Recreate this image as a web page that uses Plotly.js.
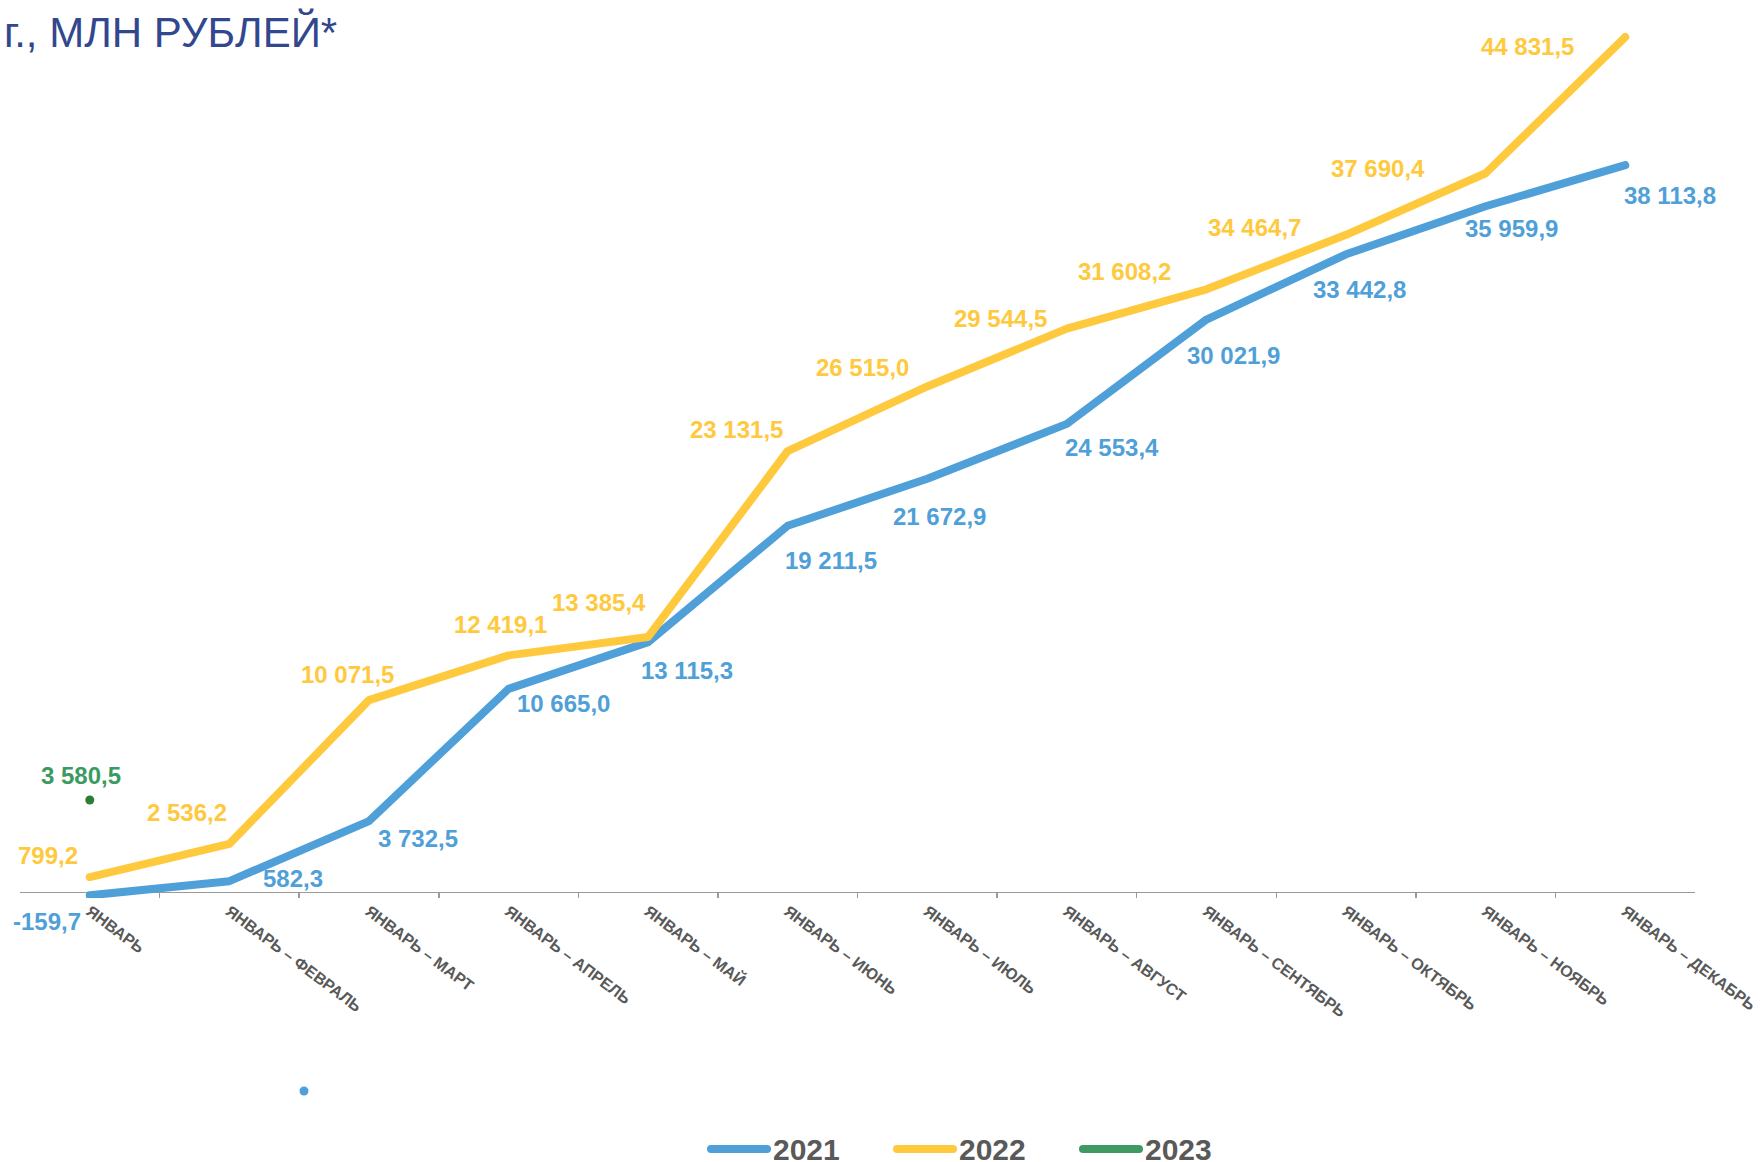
<!DOCTYPE html>
<html>
<head>
<meta charset="utf-8">
<script src="https://cdn.plot.ly/plotly-3.0.1.min.js"></script>
<style>
  html, body { margin: 0; padding: 0; background: #ffffff; }
  #chart { width: 1760px; height: 1162px; }
  .scatterlayer .js-line { stroke-linejoin: round; stroke-linecap: round; }
  .shapelayer path { stroke-linecap: round; }
</style>
</head>
<body>
<div id="chart"></div>
<script>
// ---- data ----
const categories = [
  'ЯНВАРЬ',
  'ЯНВАРЬ – ФЕВРАЛЬ',
  'ЯНВАРЬ – МАРТ',
  'ЯНВАРЬ – АПРЕЛЬ',
  'ЯНВАРЬ – МАЙ',
  'ЯНВАРЬ – ИЮНЬ',
  'ЯНВАРЬ – ИЮЛЬ',
  'ЯНВАРЬ – АВГУСТ',
  'ЯНВАРЬ – СЕНТЯБРЬ',
  'ЯНВАРЬ – ОКТЯБРЬ',
  'ЯНВАРЬ – НОЯБРЬ',
  'ЯНВАРЬ – ДЕКАБРЬ'
];
const values2021 = [-159.7, 582.3, 3732.5, 10665.0, 13115.3, 19211.5, 21672.9, 24553.4, 30021.9, 33442.8, 35959.9, 38113.8];
const values2022 = [799.2, 2536.2, 10071.5, 12419.1, 13385.4, 23131.5, 26515.0, 29544.5, 31608.2, 34464.7, 37690.4, 44831.5];
const values2023 = [3580.5];
const seriesNames = ['2021', '2022', '2023'];
const titleText = 'г., МЛН РУБЛЕЙ*';

// ---- styles (label offsets in px, colours, legend geometry) ----
const shift2021 = [[-43,-26],[64,3],[49,-17],[55,-15],[39,-28],[43,-35],[12,-38],[45,-24],[27,-36],[13,-35],[26,-22],[45,-30]];
const shift2022 = [[-42,22],[-42,31],[-21,26],[-8,31],[-49,34],[-51,22],[-65,19],[-66,10],[-82,18],[-92,7],[-108,5],[-98,-9]];
const shift2023 = [[-9,25]];
const BLUE = '#4f9fd8';
const YELLOW = '#ffc93e';
const GREEN_LINE = '#3e9a62';
const GREEN_DOT = '#2e7d32';
const GREEN_TEXT = '#3b9a5f';
const seriesColors = [BLUE, YELLOW, GREEN_LINE];
const FONT = 'Liberation Sans, Arial, sans-serif';

// plot-area geometry in pixels
const W = 1760, H = 1162;
const M = { l: 20, r: 65, t: 20, b: 264 };
const PW = W - M.l - M.r, PH = H - M.t - M.b;
const px2x = function (px) { return (px - M.l) / PW; };
const px2y = function (py) { return (H - M.b - py) / PH; };
const legendLineStart = [711, 897, 1083];   // px
const legendLineLen = 56, legendTextGap = 4, legendY = 1149;

function fmt(v) {
  const parts = Math.abs(v).toFixed(1).split('.');
  const intPart = parts[0].replace(/\B(?=(\d{3})+(?!\d))/g, ' ');
  return (v < 0 ? '-' : '') + intPart + ',' + parts[1];
}

const x2023 = categories.slice(0, values2023.length);

const traces = [
  { x: categories, y: values2021, type: 'scatter', mode: 'lines', name: seriesNames[0],
    line: { color: BLUE, width: 8 }, hoverinfo: 'skip' },
  { x: categories, y: values2022, type: 'scatter', mode: 'lines', name: seriesNames[1],
    line: { color: YELLOW, width: 8 }, hoverinfo: 'skip' },
  { x: x2023, y: values2023, type: 'scatter', mode: 'markers', name: seriesNames[2],
    marker: { color: GREEN_DOT, size: 9 }, yaxis: 'y2', hoverinfo: 'skip' }
];

const annotations = [];
function addLabels(vals, shifts, color, yref) {
  vals.forEach((v, i) => {
    annotations.push({
      x: categories[i], y: v, xref: 'x', yref: yref,
      text: fmt(v), showarrow: false,
      xanchor: 'center', yanchor: 'middle',
      xshift: shifts[i][0], yshift: shifts[i][1],
      font: { family: FONT, size: 24, color: color, weight: 'bold' }
    });
  });
}
addLabels(values2021, shift2021, BLUE, 'y');
addLabels(values2022, shift2022, YELLOW, 'y');
addLabels(values2023, shift2023, GREEN_TEXT, 'y2');

// legend drawn as shapes + text
const shapes = [];
seriesNames.forEach(function (name, i) {
  const x0 = legendLineStart[i], x1 = x0 + legendLineLen;
  shapes.push({
    type: 'line', xref: 'paper', yref: 'paper',
    x0: px2x(x0), x1: px2x(x1), y0: px2y(legendY), y1: px2y(legendY),
    line: { color: seriesColors[i], width: 8 }
  });
  annotations.push({
    xref: 'paper', yref: 'paper', x: px2x(x1 + legendTextGap), y: px2y(legendY),
    xanchor: 'left', yanchor: 'middle', showarrow: false, text: name,
    font: { family: FONT, size: 30, color: '#595959', weight: 'bold' }
  });
});
// small stray marker seen below the axis in the reference
shapes.push({
  type: 'circle', xref: 'paper', yref: 'paper',
  x0: px2x(299.5), x1: px2x(308.5), y0: px2y(1095.5), y1: px2y(1086.5),
  fillcolor: BLUE, line: { width: 0 }
});

const layout = {
  width: W, height: H,
  paper_bgcolor: '#ffffff', plot_bgcolor: '#ffffff',
  margin: M,
  showlegend: false,
  title: {
    text: titleText, x: 4 / W, xanchor: 'left', xref: 'container',
    y: 1 - 18 / H, yanchor: 'top', yref: 'container',
    font: { family: FONT, size: 42, color: '#33478e' }
  },
  xaxis: {
    type: 'category', range: [-0.5, 11.5],
    showgrid: false, zeroline: false, showline: false,
    ticks: 'inside', tickson: 'boundaries', ticklen: 6, tickwidth: 1.5, tickcolor: '#9a9a9a',
    tickangle: 37,
    tickfont: { family: FONT, size: 16, color: '#595959', weight: 'bold' },
    fixedrange: true
  },
  yaxis: {
    range: [-299, 45724],
    showgrid: false, showticklabels: false, ticks: '',
    zeroline: true, zerolinecolor: '#9a9a9a', zerolinewidth: 1.5,
    showline: false, fixedrange: true
  },
  yaxis2: {
    range: [-1556.5, 44466.5], overlaying: 'y', side: 'right',
    visible: false, showgrid: false, zeroline: false, fixedrange: true
  },
  shapes: shapes,
  annotations: annotations
};

Plotly.newPlot('chart', traces, layout, { staticPlot: true, displayModeBar: false });
</script>
</body>
</html>
